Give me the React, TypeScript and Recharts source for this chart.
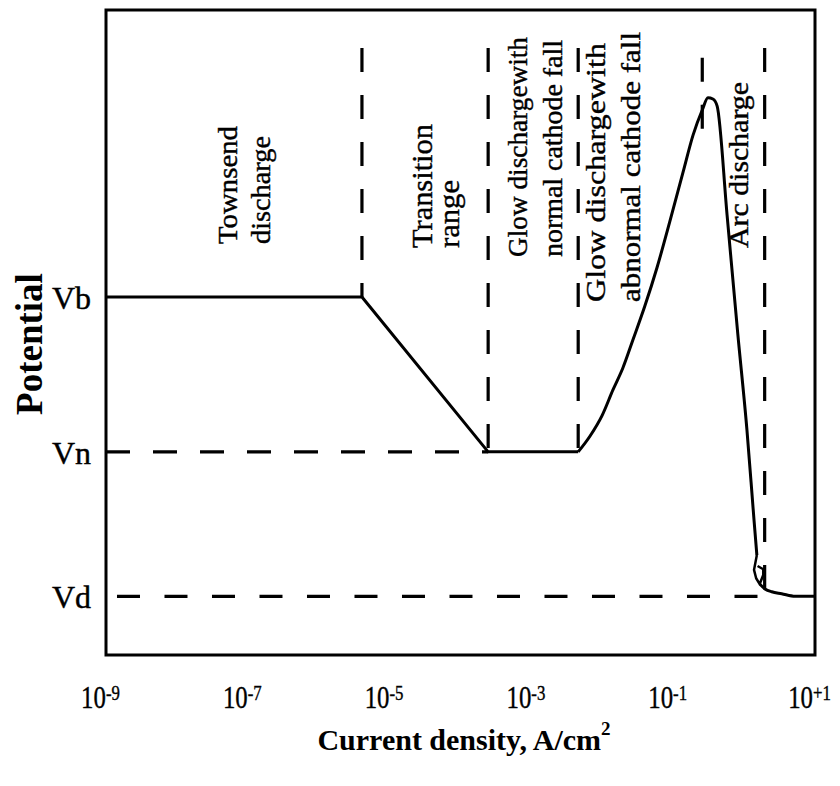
import React from 'react';
import { LineChart, Line, XAxis, YAxis, ReferenceLine, ReferenceArea } from 'recharts';

const W = 840;
const H = 786;
const MARGIN = { top: 10, right: 25, bottom: 0, left: 0 };
const Y_AXIS_W = 106;
const X_AXIS_H = 131;
const SERIF = '"Liberation Serif", "Times New Roman", Times, serif';

// x: log10 of current density (A/cm²)
const xTicks = [-9, -7, -5, -3, -1, 1];
const xTickExponents = ['-9', '-7', '-5', '-3', '-1', '+1'];

// y: potential (arbitrary units)
const V_D = 9.1;
const V_N = 31.5;
const V_B = 55.5;
const yTicks = [V_D, V_N, V_B];
const yTickLabels = ['Vd', 'Vn', 'Vb'];

// Townsend plateau, transition slope, normal-glow plateau
const lowCurrentX = [-9, -5.39, -3.61, -2.34];
const lowCurrentY = [V_B, V_B, V_N, V_N];

// abnormal glow rise, peak, and the drop into the arc
const glowArcX = [-2.34, -2.17, -2.0, -1.85, -1.71, -1.57, -1.40, -1.23, -1.05, -0.86, -0.72, -0.59, -0.51, -0.44, -0.38, -0.24, -0.09, 0.04, 0.14, 0.18];
const glowArcY = [31.5, 34.0, 37.2, 41.1, 44.5, 48.8, 54.1, 60.0, 67.1, 74.9, 80.6, 84.5, 86.4, 86.2, 85.1, 68.2, 49.9, 34.9, 20.9, 15.5];

// small loop where the arc settles
const loopX = [0.18, 0.14, 0.17, 0.22, 0.27, 0.27, 0.19];
const loopY = [15.5, 13.2, 11.9, 11.0, 12.4, 13.3, 13.8];

// arc plateau at Vd
const arcX = [0.22, 0.3, 0.39, 0.53, 0.72, 1.0];
const arcY = [11.0, 10.2, 9.8, 9.5, V_D, V_D];

// dashed region boundaries
const boundaryX = [-5.39, -3.61, -2.34, -0.59, 0.29];
const boundaryTop = [94.1, 94.1, 94.1, 92.6, 94.1];
const boundaryBottom = [V_B, V_N, V_N, 81.5, 10.1];

// dashed reference levels
const levelY = [V_N, V_D];
const levelFrom = [-9, -8.845];
const levelTo = [-3.61, 0.22];
const levelDash = ['24 23', '23 24.5'];

const toPoints = (xs: number[], ys: number[]) => xs.map((x, i) => ({ x, y: ys[i] }));

// region captions, rotated, reading bottom to top
const regionLabels = [
  { text: 'Townsend', x: 237, y: 244, size: 28, len: 118 },
  { text: 'discharge', x: 270, y: 244, size: 28, len: 108 },
  { text: 'Transition', x: 432, y: 248, size: 30, len: 124 },
  { text: 'range', x: 459, y: 248, size: 30, len: 68 },
  { text: 'Glow dischargewith', x: 527, y: 257, size: 27, len: 220 },
  { text: 'normal cathode fall', x: 562, y: 257, size: 27, len: 217 },
  { text: 'Glow dischargewith', x: 605, y: 302, size: 28, len: 259 },
  { text: 'abnormal cathode fall', x: 640, y: 302, size: 28, len: 270 },
  { text: 'Arc discharge', x: 748, y: 248, size: 28, len: 166 },
];

const INK = { fill: '#000', stroke: '#000', strokeWidth: 0.4 };

const XTick = (props: any) => {
  const { x, y, payload } = props;
  const exp = xTickExponents[xTicks.indexOf(payload.value)];
  return (
    <text
      transform={`translate(${x - 5.5},${y + 53}) scale(0.8,1)`}
      textAnchor="middle"
      fontFamily={SERIF}
      fontSize={31}
      {...INK}
    >
      10
      <tspan fontSize={21} dy={-8}>
        {exp}
      </tspan>
    </text>
  );
};

const YTick = (props: any) => {
  const { y, payload } = props;
  const label = yTickLabels[yTicks.indexOf(payload.value)];
  return (
    <text x={91} y={y + 12} textAnchor="end" fontFamily={SERIF} fontSize={32} {...INK}>
      {label}
    </text>
  );
};

export default function App() {
  return (
    <div style={{ position: 'fixed', left: 0, top: 0, width: W, height: H, background: '#fff' }}>
      <LineChart width={W} height={H} margin={MARGIN}>
        <XAxis
          type="number"
          dataKey="x"
          domain={[-9, 1]}
          ticks={xTicks}
          interval={0}
          allowDataOverflow
          axisLine={false}
          tickLine={false}
          tickSize={0}
          tickMargin={0}
          height={X_AXIS_H}
          tick={(p: any) => <XTick {...p} />}
        />
        <YAxis
          type="number"
          dataKey="y"
          domain={[0, 100]}
          ticks={yTicks}
          interval={0}
          allowDataOverflow
          axisLine={false}
          tickLine={false}
          tickSize={0}
          width={Y_AXIS_W}
          tick={(p: any) => <YTick {...p} />}
        />
        <ReferenceArea x1={-9} x2={1} y1={0} y2={100} fill="none" fillOpacity={0} stroke="#000" strokeWidth={3} />
        {boundaryX.map((bx, i) => (
          <ReferenceLine
            key={`b${i}`}
            segment={[
              { x: bx, y: boundaryTop[i] },
              { x: bx, y: boundaryBottom[i] },
            ]}
            stroke="#000"
            strokeWidth={3.2}
            strokeDasharray="24 23"
          />
        ))}
        {levelY.map((ly, i) => (
          <ReferenceLine
            key={`l${i}`}
            segment={[
              { x: levelFrom[i], y: ly },
              { x: levelTo[i], y: ly },
            ]}
            stroke="#000"
            strokeWidth={3.2}
            strokeDasharray={levelDash[i]}
          />
        ))}
        <Line
          data={toPoints(lowCurrentX, lowCurrentY)}
          dataKey="y"
          type="linear"
          stroke="#000"
          strokeWidth={3}
          strokeLinejoin="round"
          dot={false}
          isAnimationActive={false}
        />
        <Line
          data={toPoints(glowArcX, glowArcY)}
          dataKey="y"
          type="monotone"
          stroke="#000"
          strokeWidth={3}
          dot={false}
          isAnimationActive={false}
        />
        <Line
          data={toPoints(loopX, loopY)}
          dataKey="y"
          type="linear"
          stroke="#000"
          strokeWidth={2.5}
          strokeLinejoin="round"
          dot={false}
          isAnimationActive={false}
        />
        <Line
          data={toPoints(arcX, arcY)}
          dataKey="y"
          type="monotone"
          stroke="#000"
          strokeWidth={3}
          dot={false}
          isAnimationActive={false}
        />
      </LineChart>
      <svg
        width={W}
        height={H}
        style={{ position: 'absolute', left: 0, top: 0, pointerEvents: 'none' }}
      >
        {regionLabels.map((r, i) => (
          <text
            key={i}
            transform={`translate(${r.x},${r.y}) rotate(-90)`}
            textAnchor="start"
            fontFamily={SERIF}
            fontSize={r.size}
            textLength={r.len}
            lengthAdjust="spacingAndGlyphs"
            {...INK}
          >
            {r.text}
          </text>
        ))}
        <text
          transform="translate(42,344) rotate(-90)"
          textAnchor="middle"
          fontFamily={SERIF}
          fontWeight="bold"
          fontSize={37}
          fill="#000"
        >
          Potential
        </text>
        <text x={464} y={750} textAnchor="middle" fontFamily={SERIF} fontWeight="bold" fontSize={30} fill="#000">
          Current density, A/cm
          <tspan fontSize={19} dy={-15}>
            2
          </tspan>
        </text>
      </svg>
    </div>
  );
}
